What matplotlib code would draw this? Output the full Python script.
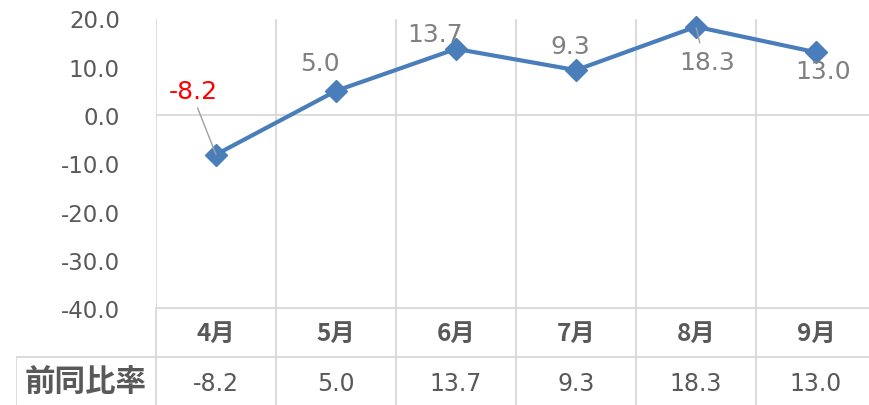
import matplotlib.pyplot as plt

plt.rcParams['font.family'] = ['DejaVu Sans', 'Noto Sans CJK JP']

# chart data
months = ['4月', '5月', '6月', '7月', '8月', '9月']
yoy = [-8.2, 5.0, 13.7, 9.3, 18.3, 13.0]
row_name = '前同比率'
y_ticks = [20, 10, 0, -10, -20, -30, -40]

# label offsets (pixels) relative to each point
label_dx = [-23, -16, -21, -6, 11, 7]
label_dy = [64, 28, 15, 24, -35, -19]
label_col = ['#ff0000', '#808080', '#808080', '#808080', '#808080', '#808080']

W, H = 870, 406
grid_c = '#d9d9d9'
text_c = '#595959'
blue = '#4a7ebb'

fig = plt.figure(figsize=(W / 100, H / 100), dpi=100)
ax = fig.add_axes([156 / W, 1 - 309 / H, (W - 156) / W, (309 - 19.5) / H])
x = list(range(len(months)))
xmin, xmax = -0.5, -0.5 + (W - 156) / 120

ax.set_xlim(xmin, xmax)
ax.set_ylim(-40, 20)
for s in ax.spines.values():
    s.set_visible(False)
ax.set_xticks([])
ax.set_yticks(y_ticks)
ax.set_yticklabels([f'{v:.1f}' for v in y_ticks], color=text_c, fontsize=16.5)
ax.tick_params(axis='y', length=0, pad=26)

for b in [i - 0.5 for i in range(len(months) + 1)]:
    ax.axvline(b, color=grid_c, lw=1.3, zorder=1)
ax.axhline(0, color=grid_c, lw=1.3, zorder=1)
ax.axhline(-40, color=grid_c, lw=1.3, zorder=1, clip_on=False)

ax.plot(x, yoy, color=blue, lw=3, marker='D', ms=11, zorder=3, clip_on=False)

for i, v in enumerate(yoy):
    arrow = None
    if i == 0:
        arrow = dict(arrowstyle='-', color='#a0a0a0', lw=1, shrinkA=2, shrinkB=0, relpos=(0.55, 0))
    elif i == 4:
        arrow = dict(arrowstyle='-', color='#a0a0a0', lw=1, shrinkA=3, shrinkB=1, relpos=(0.4, 1))
    ax.annotate(f'{v:.1f}', (i, v), xytext=(label_dx[i], label_dy[i]),
                textcoords='offset pixels', ha='center', va='center',
                fontsize=18, color=label_col[i], arrowprops=arrow, zorder=4)

# data table below the chart
tax = fig.add_axes([16 / W, 0, (W - 16) / W, 97 / H])
tax.set_xlim(-0.5 - 140 / 120, xmax)
tax.set_ylim(2, 0)
tax.axis('off')
left = -0.5 - 140 / 120
tax.plot([-0.5, xmax], [0, 0], color=grid_c, lw=1.3)
tax.plot([left, xmax], [1, 1], color=grid_c, lw=1.3)
tax.plot([left, left], [1, 2], color=grid_c, lw=1.3)
for b in [i - 0.5 for i in range(len(months) + 1)]:
    tax.plot([b, b], [0, 2], color=grid_c, lw=1.3)

for i, m in enumerate(months):
    tax.text(i, 0.52, m, ha='center', va='center', fontsize=17.5, color=text_c,
             fontweight='bold', family=['Noto Sans CJK JP', 'DejaVu Sans'])
    tax.text(i, 1.55, f'{yoy[i]:.1f}', ha='center', va='center', fontsize=17, color=text_c)
tax.text((left - 0.5) / 2, 1.52, row_name, ha='center', va='center', fontsize=22,
         color=text_c, fontweight='bold', family=['Noto Sans CJK JP', 'DejaVu Sans'])

fig.savefig('out.png', dpi=100)
